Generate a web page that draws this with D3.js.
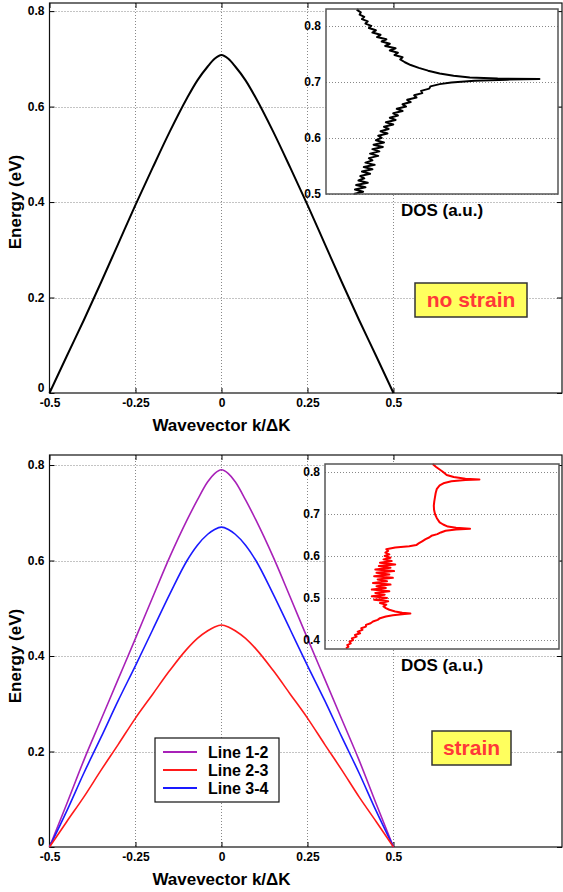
<!DOCTYPE html>
<html>
<head>
<meta charset="utf-8">
<script src="https://cdn.jsdelivr.net/npm/d3@7"></script>
<style>
	body { margin: 0; background: #fff; }
	svg text { font-family: "Liberation Sans", Arial, sans-serif; font-weight: bold; }
</style>
</head>
<body>
<div id="chart"></div>
<script>
// wavevector grid (k / dK)
const kGrid = [-0.5, -0.45, -0.4, -0.35, -0.3, -0.25, -0.2, -0.15, -0.1, -0.07, -0.04, -0.02, 0,
	0.02, 0.04, 0.07, 0.1, 0.15, 0.2, 0.25, 0.3, 0.35, 0.4, 0.45, 0.5];

// no strain band
const bandNoStrain = [0, 0.077, 0.153, 0.232, 0.313, 0.394, 0.472, 0.548, 0.618, 0.655, 0.684, 0.700, 0.708,
	0.700, 0.684, 0.655, 0.618, 0.548, 0.472, 0.394, 0.313, 0.232, 0.153, 0.077, 0];

// strain bands
const line12 = [0, 0.09, 0.182, 0.267, 0.352, 0.437, 0.523, 0.608, 0.685, 0.727, 0.765, 0.782, 0.79,
	0.782, 0.765, 0.727, 0.685, 0.608, 0.523, 0.437, 0.352, 0.267, 0.182, 0.09, 0];
const line23 = [0, 0.053, 0.105, 0.161, 0.215, 0.27, 0.32, 0.37, 0.415, 0.437, 0.453, 0.461, 0.465,
	0.461, 0.453, 0.437, 0.415, 0.37, 0.32, 0.27, 0.215, 0.161, 0.105, 0.053, 0];
const line34 = [0, 0.075, 0.155, 0.23, 0.307, 0.38, 0.455, 0.53, 0.6, 0.632, 0.655, 0.665, 0.67,
	0.665, 0.655, 0.632, 0.6, 0.53, 0.455, 0.38, 0.307, 0.23, 0.155, 0.075, 0];

const legendNames = ["Line 1-2", "Line 2-3", "Line 3-4"];
const legendColors = ["#a821b8", "#ff1a1a", "#1a1aff"];

// DOS, no strain: [energy, DOS a.u.]
const dosTop = [
	[0.500, 0.12], [0.504, 0.16], [0.508, 0.125], [0.512, 0.17], [0.516, 0.13], [0.520, 0.18],
	[0.524, 0.14], [0.528, 0.165], [0.532, 0.148], [0.536, 0.19], [0.540, 0.155], [0.544, 0.2],
	[0.548, 0.163], [0.552, 0.21], [0.556, 0.17], [0.560, 0.2], [0.564, 0.185], [0.568, 0.225],
	[0.572, 0.19], [0.576, 0.23], [0.580, 0.2], [0.584, 0.245], [0.588, 0.205], [0.592, 0.25],
	[0.596, 0.215], [0.600, 0.24], [0.604, 0.225], [0.608, 0.265], [0.612, 0.235], [0.616, 0.27],
	[0.620, 0.25], [0.624, 0.29], [0.628, 0.258], [0.632, 0.3], [0.636, 0.275], [0.640, 0.31],
	[0.644, 0.29], [0.648, 0.33], [0.652, 0.305], [0.656, 0.345], [0.660, 0.33], [0.664, 0.365],
	[0.668, 0.35], [0.672, 0.39], [0.676, 0.38], [0.680, 0.415], [0.684, 0.41], [0.688, 0.445],
	[0.692, 0.45], [0.696, 0.49], [0.699, 0.54], [0.702, 0.64], [0.704, 0.78], [0.705, 0.92],
	[0.706, 0.74], [0.708, 0.62], [0.711, 0.55], [0.715, 0.49], [0.720, 0.44], [0.725, 0.4],
	[0.730, 0.365], [0.735, 0.34], [0.740, 0.32], [0.744, 0.33], [0.748, 0.295], [0.752, 0.31],
	[0.756, 0.275], [0.760, 0.3], [0.764, 0.255], [0.768, 0.275], [0.772, 0.24], [0.776, 0.26],
	[0.780, 0.22], [0.784, 0.235], [0.788, 0.2], [0.792, 0.215], [0.796, 0.185], [0.800, 0.195],
	[0.804, 0.17], [0.808, 0.18], [0.812, 0.155], [0.816, 0.165], [0.820, 0.145], [0.824, 0.15],
	[0.828, 0.135], [0.830, 0.14]
];

// DOS, strain
const dosBot = [
	[0.380, 0.09], [0.384, 0.1], [0.388, 0.095], [0.392, 0.11], [0.396, 0.105], [0.400, 0.12],
	[0.404, 0.115], [0.408, 0.135], [0.412, 0.128], [0.416, 0.15], [0.420, 0.14], [0.424, 0.16],
	[0.428, 0.155], [0.432, 0.175], [0.436, 0.175], [0.440, 0.195], [0.444, 0.205], [0.448, 0.225],
	[0.452, 0.235], [0.456, 0.26], [0.459, 0.29], [0.462, 0.34], [0.463, 0.365], [0.465, 0.33],
	[0.468, 0.3], [0.472, 0.275], [0.476, 0.26], [0.480, 0.25], [0.484, 0.262], [0.488, 0.235],
	[0.492, 0.27], [0.496, 0.21], [0.500, 0.265], [0.504, 0.2], [0.508, 0.255], [0.512, 0.215],
	[0.516, 0.275], [0.520, 0.2], [0.524, 0.26], [0.528, 0.22], [0.532, 0.28], [0.536, 0.205],
	[0.540, 0.265], [0.544, 0.225], [0.548, 0.29], [0.552, 0.21], [0.556, 0.275], [0.560, 0.22],
	[0.564, 0.295], [0.568, 0.215], [0.572, 0.28], [0.576, 0.23], [0.580, 0.3], [0.584, 0.235],
	[0.588, 0.285], [0.592, 0.25], [0.596, 0.28], [0.600, 0.255], [0.604, 0.275], [0.608, 0.258],
	[0.612, 0.27], [0.616, 0.262], [0.620, 0.3], [0.623, 0.36], [0.626, 0.39], [0.630, 0.4],
	[0.635, 0.415], [0.640, 0.43], [0.644, 0.445], [0.648, 0.455], [0.652, 0.48], [0.656, 0.495],
	[0.660, 0.515], [0.663, 0.56], [0.665, 0.62], [0.667, 0.56], [0.670, 0.525], [0.675, 0.505],
	[0.680, 0.49], [0.690, 0.478], [0.700, 0.47], [0.710, 0.466], [0.720, 0.465], [0.730, 0.467],
	[0.740, 0.47], [0.750, 0.473], [0.760, 0.478], [0.768, 0.49], [0.774, 0.51], [0.778, 0.54],
	[0.781, 0.6], [0.782, 0.66], [0.784, 0.6], [0.788, 0.55], [0.793, 0.52], [0.800, 0.505],
	[0.806, 0.49], [0.812, 0.475], [0.819, 0.46]
];

const xTicks = [-0.5, -0.25, 0, 0.25, 0.5];
const xTickLabels = ["-0.5", "-0.25", "0", "0.25", "0.5"];
const yTicks = [0, 0.2, 0.4, 0.6, 0.8];
const yTickLabels = ["0", "0.2", "0.4", "0.6", "0.8"];
const insetTopTicks = [0.5, 0.6, 0.7, 0.8];
const insetBotTicks = [0.4, 0.5, 0.6, 0.7, 0.8];

width = 563;
height = 892;

const svg = d3.select("#chart").append("svg")
	.attr("width", width)
	.attr("height", height);

function drawPanel(p) {
	x = d3.scaleLinear().domain([-0.5, 0.99]).range([49.5, 562]);
	y = d3.scaleLinear().domain([0, p.yMax]).range([p.bottom, p.top]);

	const g = svg.append("g");

	// grid
	g.selectAll(".hgrid").data(yTicks.slice(1)).join("line")
		.attr("x1", x.range()[0]).attr("x2", x.range()[1])
		.attr("y1", (d) => Math.round(y(d)) + 0.5).attr("y2", (d) => Math.round(y(d)) + 0.5)
		.attr("stroke", "#888").attr("stroke-dasharray", "1,2");
	g.selectAll(".vgrid").data(xTicks.slice(1)).join("line")
		.attr("x1", (d) => Math.round(x(d)) + 0.5).attr("x2", (d) => Math.round(x(d)) + 0.5)
		.attr("y1", p.top).attr("y2", p.bottom)
		.attr("stroke", "#888").attr("stroke-dasharray", "1,2");

	// axes, matlab style ticks inside
	g.append("g").attr("transform", `translate(0, ${p.bottom})`)
		.call(d3.axisBottom(x).tickValues(xTicks).tickSize(-5).tickPadding(5)
			.tickFormat((d, i) => xTickLabels[i]))
		.call((a) => a.select(".domain").remove())
		.call((a) => a.selectAll("text").attr("font-size", 12).attr("font-family", null).attr("fill", "#000"));
	g.append("g").attr("transform", `translate(0, ${p.top})`)
		.call(d3.axisTop(x).tickValues(xTicks).tickSize(-5).tickFormat(""))
		.call((a) => a.select(".domain").remove());
	g.append("g").attr("transform", `translate(${x.range()[0]}, 0)`)
		.call(d3.axisLeft(y).tickValues(yTicks).tickSize(-5).tickPadding(5)
			.tickFormat((d, i) => yTickLabels[i]))
		.call((a) => a.select(".domain").remove())
		.call((a) => a.selectAll("text").attr("font-size", 12).attr("font-family", null).attr("fill", "#000")
			.attr("dy", (d) => d === 0 ? "-0.1em" : "0.32em"));
	g.append("g").attr("transform", `translate(${x.range()[1]}, 0)`)
		.call(d3.axisRight(y).tickValues(yTicks).tickSize(-5).tickFormat(""))
		.call((a) => a.select(".domain").remove());

	g.append("rect")
		.attr("x", x.range()[0]).attr("y", p.top)
		.attr("width", x.range()[1] - x.range()[0]).attr("height", p.bottom - p.top)
		.attr("fill", "none").attr("stroke", "#111").attr("stroke-width", 1.2);

	// bands
	line = d3.line()
		.x((d, i) => x(kGrid[i]))
		.y((d) => y(d))
		.curve(d3.curveMonotoneX);
	p.bands.forEach((b) => {
		g.append("path").datum(b.values)
			.attr("fill", "none").attr("stroke", b.color).attr("stroke-width", p.lineWidth)
			.attr("d", line);
	});

	// axis labels
	g.append("text").attr("x", x(0)).attr("y", p.bottom + 38)
		.attr("text-anchor", "middle").attr("font-size", 17).text("Wavevector k/\u0394K");
	g.append("text")
		.attr("transform", `translate(21, ${(y(0) + y(0.8)) / 2}) rotate(-90)`)
		.attr("text-anchor", "middle").attr("font-size", 17).text("Energy (eV)");

	// DOS inset
	const ins = p.inset;
	xi = d3.scaleLinear().domain([0, 1]).range([ins.x0, ins.x1]);
	yi = d3.scaleLinear().domain([ins.eMin, ins.eMax]).range([ins.y1, ins.y0]);
	const gi = svg.append("g");
	gi.append("rect").attr("x", ins.x0).attr("y", ins.y0)
		.attr("width", ins.x1 - ins.x0).attr("height", ins.y1 - ins.y0)
		.attr("fill", "#fff");
	gi.selectAll(".igrid").data(ins.ticks).join("line")
		.attr("x1", ins.x0).attr("x2", ins.x1)
		.attr("y1", (d) => Math.round(yi(d)) + 0.5).attr("y2", (d) => Math.round(yi(d)) + 0.5)
		.attr("stroke", "#888").attr("stroke-dasharray", "1,2");
	gi.append("g").attr("transform", `translate(${ins.x0}, 0)`)
		.call(d3.axisLeft(yi).tickValues(ins.ticks).tickSize(0).tickPadding(5).tickFormat(d3.format(".1f")))
		.call((a) => a.select(".domain").remove())
		.call((a) => a.selectAll("text").attr("font-size", 12).attr("font-family", null).attr("fill", "#000"));
	const dosLine = d3.line()
		.x((d) => xi(d[1]))
		.y((d) => yi(d[0]));
	gi.append("path").datum(ins.data)
		.attr("fill", "none").attr("stroke", ins.color).attr("stroke-width", 2)
		.attr("stroke-linejoin", "round")
		.attr("d", dosLine);
	gi.append("rect").attr("x", ins.x0).attr("y", ins.y0)
		.attr("width", ins.x1 - ins.x0).attr("height", ins.y1 - ins.y0)
		.attr("fill", "none").attr("stroke", "#555").attr("stroke-width", 1.5);
	gi.append("text").attr("x", (ins.x0 + ins.x1) / 2).attr("y", ins.y1 + 22)
		.attr("text-anchor", "middle").attr("font-size", 17).text("DOS (a.u.)");

	// yellow tag
	const t = p.tag;
	svg.append("rect").attr("x", t.x).attr("y", t.y).attr("width", t.w).attr("height", t.h)
		.attr("fill", "#ffff5e").attr("stroke", "#333").attr("stroke-width", 1.5);
	svg.append("text").attr("x", t.x + t.w / 2).attr("y", t.y + t.h / 2 + 7)
		.attr("text-anchor", "middle").attr("font-size", 21).attr("fill", "#ff3838").text(t.text);
}

drawPanel({
	top: 3, bottom: 393, yMax: 0.817, lineWidth: 2,
	bands: [{ values: bandNoStrain, color: "#000" }],
	inset: { x0: 326, x1: 558, y0: 9, y1: 194, eMin: 0.5, eMax: 0.83, ticks: insetTopTicks,
		data: dosTop, color: "#000" },
	tag: { x: 415, y: 283, w: 112, h: 34, text: "no strain" }
});

drawPanel({
	top: 455, bottom: 847, yMax: 0.821, lineWidth: 1.6,
	bands: [
		{ values: line12, color: legendColors[0] },
		{ values: line34, color: legendColors[2] },
		{ values: line23, color: legendColors[1] }
	],
	inset: { x0: 325, x1: 559, y0: 464, y1: 649, eMin: 0.3786, eMax: 0.819, ticks: insetBotTicks,
		data: dosBot, color: "#ff0000" },
	tag: { x: 432, y: 731, w: 79, h: 34, text: "strain" }
});

// legend
const lg = svg.append("g").attr("transform", "translate(155, 738)");
lg.append("rect").attr("width", 124).attr("height", 64)
	.attr("fill", "#fff").attr("stroke", "#111").attr("stroke-width", 1.2);
legendNames.forEach((name, i) => {
	lg.append("line").attr("x1", 8).attr("x2", 42).attr("y1", 14 + i * 18).attr("y2", 14 + i * 18)
		.attr("stroke", legendColors[i]).attr("stroke-width", 2);
	lg.append("text").attr("x", 53).attr("y", 14 + i * 18 + 6)
		.attr("font-size", 16).text(name);
});
</script>
</body>
</html>
